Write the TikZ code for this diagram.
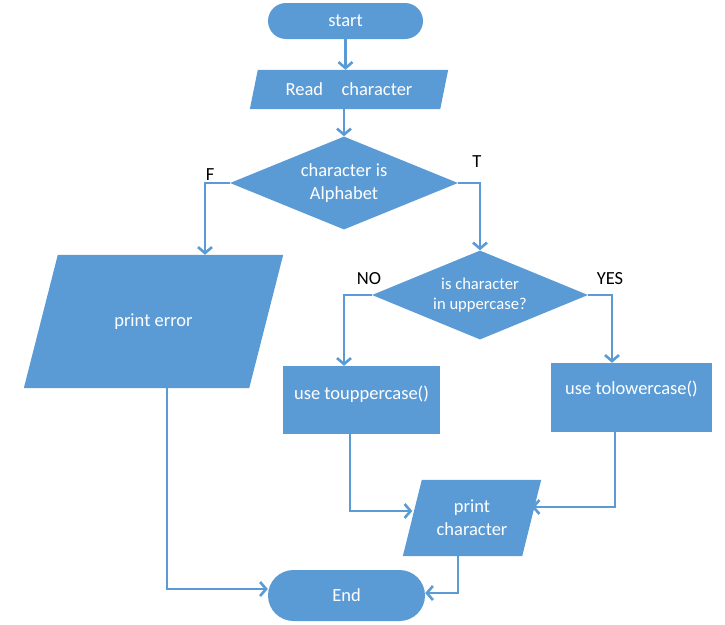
\documentclass[tikz,border=0pt]{standalone}
\usepackage{fontspec}
\setmainfont{Carlito}
\usetikzlibrary{arrows.meta, shapes.geometric, shapes.misc, calc, backgrounds}
\definecolor{flowblue}{RGB}{91,155,213}
\tikzset{> = { Straight Barb[length = 6pt, width = 14pt] }}

\begin{document}
\begin{tikzpicture}[x = 1pt, y = -1pt, font = \fontsize{18.5}{23}\selectfont,
		terminal/.style = { rounded rectangle, fill = flowblue, text = white, inner sep = 0pt },
		io/.style = { rectangle, text = white, inner sep = 0pt, align = center },
		decision/.style = { diamond, fill = flowblue, text = white, inner sep = 0pt, align = center },
		process/.style = { rectangle, fill = flowblue, text = white, inner sep = 0pt },
		branch/.style = { text = black, inner sep = 0pt },
		flow/.style = { ->, flowblue, line width = 2.6pt }]
		\useasboundingbox (0, 0) rectangle (725, 624);

		\node [terminal, minimum width = 155, minimum height = 36] (start) at (345.5, 21) {start};
		\node [io, minimum width = 190, minimum height = 39] (read) at (349, 89.5) {Read\quad character};
		\node [decision, shape aspect = 2.45, minimum width = 228, minimum height = 93] (alpha) at (344, 183) {character is\\Alphabet};
		\node [io, minimum width = 225, minimum height = 133] (error) at (153.5, 321.5) {print error};
		\node [decision, shape aspect = 2.43, minimum width = 216, minimum height = 89, font = \fontsize{16.6}{20}\selectfont] (upper) at (480, 295) {is character\\in uppercase?};
		\node [process, minimum width = 157, minimum height = 68, text depth = 14pt] (toupper) at (361.5, 400) {use touppercase()};
		\node [process, minimum width = 161, minimum height = 69, text depth = 19pt] (tolower) at (631.5, 397.5) {use tolowercase()};
		\node [io, minimum width = 119, minimum height = 76] (pchar) at (472, 518) {print\\character};
		\node [terminal, minimum width = 157, minimum height = 51] (finish) at (346.5, 595.5) {End};

		\begin{scope}[on background layer]
			\foreach \n/\s in {read/4, error/17, pchar/9.5}
				\fill [flowblue] ($(\n.south west) + (-\s, 0)$) -- ($(\n.north west) + (\s, 0)$)
					-- ($(\n.north east) + (\s, 0)$) -- ($(\n.south east) + (-\s, 0)$) -- cycle;
		\end{scope}

		\node [branch] (lf) at (210, 175) {F};
		\node [branch] (lt) at (477, 162) {T};
		\node [branch] (lno) at (369, 279) {NO};
		\node [branch] (lyes) at (610, 279) {YES};

		\draw [flow] (start) -- (start |- read.north);
		\draw [flow] (read.south -| alpha) -- (alpha);
		\draw [flow] (alpha.west) -| ($(error.north) + (51.5, 0)$);
		\draw [flow] (alpha.east) -| (upper.north);
		\draw [flow] (upper.west) -| ($(toupper.north) + (-17.5, 0)$);
		\draw [flow] (upper.east) -| ($(tolower.north) + (-19.5, 0)$);
		\draw [flow] ($(toupper.south) + (-11.5, 0)$) |- ($(pchar.west) + (0, -7)$);
		\draw [flow] ($(tolower.south) + (-16.5, 0)$) |- ($(pchar.east) + (0, -11)$);
		\draw [flow] ($(error.south) + (13.5, 0)$) |- ($(finish.west) + (0, -6.5)$);
		\draw [flow] ($(pchar.south) + (-14, 0)$) |- ($(finish.east) + (0, -2.5)$);
	\end{tikzpicture}
\end{document}
